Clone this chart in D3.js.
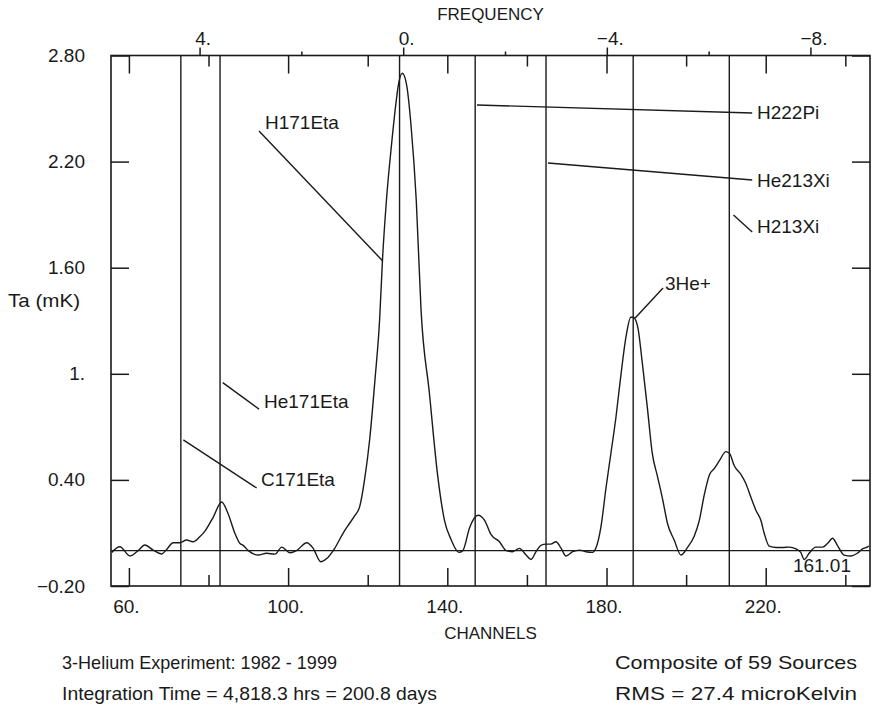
<!DOCTYPE html>
<html>
<head>
<meta charset="utf-8">
<script src="https://cdn.jsdelivr.net/npm/d3@7"></script>
<style>
  html, body { margin: 0; padding: 0; background: #fff; }
  svg text { font-family: "Liberation Sans", Arial, sans-serif; fill: #1a1a1a; }
</style>
</head>
<body>
<svg id="chart" width="874" height="709"></svg>
<script>
// ---------- data ----------
const channels = [55.7,57.7,60.3,62.3,64.0,66.1,68.2,69.5,71.1,72.8,74.5,76.1,77.8,79.1,81.2,83.3,84.9,86.6,87.9,88.7,
  90.0,92.5,94.6,96.7,98.4,100.5,102.1,104.7,106.3,108.2,109.7,111.7,113.8,115.0,116.7,118.0,119.2,120.5,121.8,123.0,
  123.7,124.7,126.0,127.2,127.6,128.7,129.8,130.9,132.2,133.4,135.5,137.6,139.3,141.0,142.9,143.9,145.6,147.7,149.4,151.0,
  153.1,154.8,156.4,158.1,159.8,161.0,162.3,163.5,164.8,166.0,167.3,168.6,169.8,171.5,173.2,174.8,176.5,177.3,178.6,179.9,
  181.1,182.4,183.6,184.9,186.1,186.7,187.8,189.0,190.3,191.5,192.8,194.1,195.3,197.0,198.7,200.4,202.0,203.3,204.6,205.9,
  207.1,208.4,210.0,210.9,212.1,213.8,215.0,216.3,217.5,218.8,219.6,220.9,222.6,224.2,225.9,227.6,228.8,229.7,230.9,232.6,
  234.3,235.5,236.8,238.0,239.7,241.4,243.0,244.3,245.5,245.9];
const ta = [-0.01,0.022,-0.03,0.0,0.032,0.003,-0.019,0.007,0.045,0.045,0.06,0.05,0.078,0.11,0.19,0.275,0.21,0.10,0.04,0.03,
  0.0,-0.025,-0.015,-0.02,0.02,-0.012,0.0,0.045,0.013,-0.063,-0.045,0.013,0.098,0.14,0.196,0.25,0.40,0.63,0.96,1.31,
  1.64,1.98,2.30,2.55,2.62,2.70,2.63,2.40,1.98,1.36,0.89,0.42,0.17,0.06,-0.01,0.0,0.13,0.20,0.17,0.09,
  0.05,0.0,-0.006,0.013,-0.025,-0.05,-0.006,0.03,0.037,0.037,0.05,0.013,-0.03,-0.006,0.003,-0.006,-0.01,0.013,0.135,0.36,
  0.55,0.76,0.99,1.21,1.32,1.32,1.27,1.06,0.80,0.55,0.42,0.29,0.155,0.06,-0.025,0.02,0.08,0.17,0.32,0.43,
  0.465,0.51,0.56,0.55,0.48,0.43,0.38,0.30,0.23,0.17,0.10,0.025,0.018,0.018,0.02,0.01,-0.01,-0.05,-0.015,0.02,
  0.02,0.04,0.07,0.03,-0.025,-0.03,-0.015,0.01,0.02,0.025];

const yTicks = [-0.2, 0.4, 1.0, 1.6, 2.2, 2.8];
const yTickLabels = ["\u22120.20", "0.40", "1.", "1.60", "2.20", "2.80"];
const xMajorTicks = [60, 100, 140, 180, 220];
const xMajorLabels = ["60.", "100.", "140.", "180.", "220."];
const xMinorTicks = [80, 120, 160, 200, 240];
const freqMajorTicks = [4, 0, -4, -8];
const freqMajorLabels = ["4.", "0.", "\u22124.", "\u22128."];
const freqMinorTicks = [2, -2, -6];

// spectral line markers (channel positions)
const markerChannels = [73.05, 82.9, 128.0, 147.0, 164.8, 186.7, 210.85];

// annotations: leader from (c1,v1) to (c2,v2), text at (tc,tv)
const labelNames = ["H171Eta", "He171Eta", "C171Eta", "H222Pi", "He213Xi", "H213Xi", "3He+"];
const leaderFrom = [[92.69, 2.373], [83.57, 0.950], [73.67, 0.626], [147.46, 2.520], [165.3, 2.192], [211.9, 1.898], [187.2, 1.316]];
const leaderTo   = [[123.77, 1.638], [92.69, 0.800], [92.11, 0.354], [216.6, 2.475], [216.6, 2.096], [216.6, 1.802], [194.2, 1.485]];
const labelAt    = [[94.19, 2.385], [93.94, 0.806], [93.19, 0.365], [217.8, 2.441], [217.8, 2.056], [217.8, 1.796], [194.7, 1.474]];

const footerLeft = ["3-Helium Experiment: 1982 - 1999", "Integration Time = 4,818.3 hrs = 200.8 days"];
const footerLeftWidth = [275, 375];
const footerRight = ["Composite of 59 Sources", "RMS = 27.4 microKelvin"];
const footerRightWidth = [242, 242];

// ---------- layout ----------
const L = 111, R = 870, T = 55.5, B = 586;
const ink = "#1a1a1a";
const FS = "19px";
const svg = d3.select("#chart");

const x = d3.scaleLinear().domain([55.5, 246.2]).range([L, R]);
const y = d3.scaleLinear().domain([-0.2, 2.8]).range([B, T]);
const f = d3.scaleLinear().domain([5.74, -9.17]).range([L, R]);

function styleAxis(g) {
  g.select(".domain").remove();
  g.selectAll("line").attr("stroke", ink).attr("stroke-width", 1.5);
  g.selectAll("text").attr("fill", ink).style("font-size", FS);
}

// frame
svg.append("rect").attr("x", L).attr("y", T).attr("width", R - L).attr("height", B - T)
  .attr("fill", "none").attr("stroke", ink).attr("stroke-width", 1.6);

// bottom channel axis (inner ticks)
svg.append("g").attr("transform", `translate(0,${B})`)
  .call(d3.axisBottom(x).tickValues(xMajorTicks).tickSize(-18).tickPadding(14)
    .tickFormat((d, i) => xMajorLabels[i]))
  .call(styleAxis)
  .call(g => g.selectAll("text").attr("dx", "-3"));
svg.append("g").attr("transform", `translate(0,${B})`)
  .call(d3.axisBottom(x).tickValues(xMinorTicks).tickSize(-11).tickFormat(""))
  .call(styleAxis);

// top channel ticks (inner)
svg.append("g").attr("transform", `translate(0,${T})`)
  .call(d3.axisTop(x).tickValues(xMajorTicks).tickSize(-18).tickFormat(""))
  .call(styleAxis);
svg.append("g").attr("transform", `translate(0,${T})`)
  .call(d3.axisTop(x).tickValues(xMinorTicks).tickSize(-11).tickFormat(""))
  .call(styleAxis);

// top frequency axis (outer ticks)
svg.append("g").attr("transform", `translate(0,${T})`)
  .call(d3.axisTop(f).tickValues(freqMajorTicks).tickSize(8).tickPadding(3)
    .tickFormat((d, i) => freqMajorLabels[i]))
  .call(styleAxis)
  .call(g => g.selectAll("text").attr("dx", "3"));
svg.append("g").attr("transform", `translate(0,${T})`)
  .call(d3.axisTop(f).tickValues(freqMinorTicks).tickSize(4).tickFormat(""))
  .call(styleAxis);

// left axis
svg.append("g").attr("transform", `translate(${L},0)`)
  .call(d3.axisLeft(y).tickValues(yTicks).tickSize(-18).tickPadding(26)
    .tickFormat((d, i) => yTickLabels[i]))
  .call(styleAxis);
// right axis
svg.append("g").attr("transform", `translate(${R},0)`)
  .call(d3.axisRight(y).tickValues(yTicks).tickSize(-18).tickFormat(""))
  .call(styleAxis);

// zero baseline
svg.append("line").attr("x1", L).attr("x2", R).attr("y1", y(0)).attr("y2", y(0))
  .attr("stroke", ink).attr("stroke-width", 1.4);

// marker lines
svg.append("g").selectAll("line").data(markerChannels).join("line")
  .attr("x1", d => x(d)).attr("x2", d => x(d)).attr("y1", T).attr("y2", B)
  .attr("stroke", ink).attr("stroke-width", 1.4);

// spectrum
svg.append("clipPath").attr("id", "clip").append("rect")
  .attr("x", L).attr("y", T).attr("width", R - L).attr("height", B - T);
const pts = channels.map((c, i) => [c, ta[i]]);
svg.append("path").datum(pts)
  .attr("clip-path", "url(#clip)")
  .attr("fill", "none").attr("stroke", ink).attr("stroke-width", 1.4)
  .attr("stroke-linejoin", "round")
  .attr("d", d3.line().curve(d3.curveMonotoneX).x(d => x(d[0])).y(d => y(d[1])));

// annotations
const ann = svg.append("g");
labelNames.forEach((name, i) => {
  ann.append("line")
    .attr("x1", x(leaderFrom[i][0])).attr("y1", y(leaderFrom[i][1]))
    .attr("x2", x(leaderTo[i][0])).attr("y2", y(leaderTo[i][1]))
    .attr("stroke", ink).attr("stroke-width", 1.4);
  ann.append("text").attr("x", x(labelAt[i][0])).attr("y", y(labelAt[i][1]))
    .style("font-size", FS).text(name);
});

// value annotation
svg.append("text").attr("x", 851).attr("y", 572).attr("text-anchor", "end")
  .style("font-size", FS).text("161.01");

// axis titles
svg.append("text").attr("x", (L + R) / 2).attr("y", 20).attr("text-anchor", "middle")
  .style("font-size", "17px").text("FREQUENCY");
svg.append("text").attr("x", (L + R) / 2).attr("y", 639).attr("text-anchor", "middle")
  .style("font-size", "17px").text("CHANNELS");
svg.append("text").attr("x", 8).attr("y", 307).style("font-size", FS)
  .attr("textLength", 72).attr("lengthAdjust", "spacingAndGlyphs").text("Ta (mK)");

// footer
footerLeft.forEach((t, i) => {
  svg.append("text").attr("x", 62).attr("y", 669 + i * 31).style("font-size", FS)
    .attr("textLength", footerLeftWidth[i]).attr("lengthAdjust", "spacingAndGlyphs").text(t);
});
footerRight.forEach((t, i) => {
  svg.append("text").attr("x", 615).attr("y", 669 + i * 31).style("font-size", FS)
    .attr("textLength", footerRightWidth[i]).attr("lengthAdjust", "spacingAndGlyphs").text(t);
});
</script>
</body>
</html>
